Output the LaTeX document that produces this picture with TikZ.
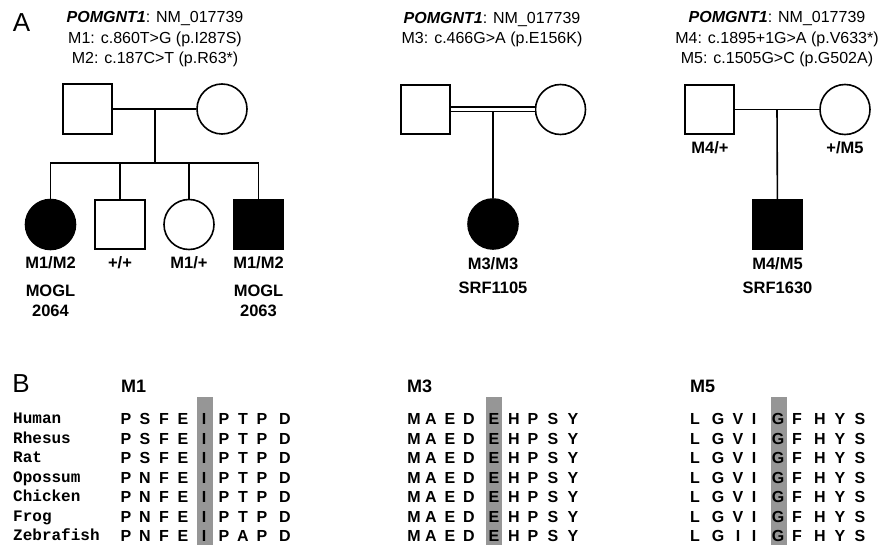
\documentclass[tikz,border=0pt]{standalone}
\usepackage{fontspec}
\setmainfont{Liberation Sans}
\newfontfamily\speciesfont{Liberation Mono}
\usetikzlibrary{positioning}
\definecolor{barGray}{RGB}{150,150,150}

\tikzset{
  person/.style={draw, line width=1.6pt, minimum size=49.5pt, inner sep=0pt},
  male/.style={person, rectangle},
  female/.style={person, circle, minimum size=50pt},
  affected/.style={fill=black},
  link/.style={line width=1.6pt},
  geno/.style={font=\fontsize{16.5}{20}\selectfont\bfseries, align=center, inner sep=0pt},
  gene/.style={font=\fontsize{16}{20.5}\selectfont, align=center, inner sep=0pt},
  panel/.style={font=\fontsize{26}{30}\selectfont, inner sep=0pt},
  site/.style={font=\fontsize{18}{20}\selectfont\bfseries, anchor=west, inner sep=0pt},
  species/.style={font=\speciesfont\fontsize{16}{18}\selectfont\bfseries, anchor=base west, inner sep=0pt},
  aa/.style={font=\fontsize{16}{18}\selectfont\bfseries, inner sep=0pt},
}

\newcommand{\aarow}[3]{%
  \foreach \ltr [count=\k from 0] in {#3} {
    \pgfmathsetmacro\xx{{#2}[\k]}
    \node[aa] at (\xx,#1) {\ltr};
  }}

\begin{document}
\begin{tikzpicture}[x=1pt, y=-1pt]
  \useasboundingbox (0,0) rectangle (882,545);

  \node[panel] (pa) at (21.5,22.5) {A};
  \node[panel] (pb) at (21,383.5) {B};

  % family 1
  \node[gene] (t1) at (155,39.5)
    {\textbf{\textit{POMGNT1}}: NM\_017739\\M1: c.860T>G (p.I287S)\\M2: c.187C>T (p.R63*)};
  \node[male] (f1) at (87.5,109) {};
  \node[female] (m1) at (222,109) {};
  \coordinate (u1) at (155,109);
  \coordinate (s1) at (155,163);
  \node[female, affected] (k11) at (50.5,224.5) {};
  \node[male] (k12) at (120,224.5) {};
  \node[female] (k13) at (189,224.5) {};
  \node[male, affected] (k14) at (258.5,224.5) {};
  \draw[link] (f1) -- (m1);
  \draw[link] (u1) -- (s1);
  \draw[link] (k11.north) |- (k14 |- s1) -- (k14.north);
  \foreach \k in {k12,k13}
    \draw[link] (\k |- s1) -- (\k.north);
  \node[geno] (g11) at (50.5,263) {M1/M2};
  \node[geno] (g12) at (120,263) {+/+};
  \node[geno] (g13) at (189,263) {M1/+};
  \node[geno] (g14) at (258.5,263) {M1/M2};
  \node[geno] (id11) at (50.5,301) {MOGL\\2064};
  \node[geno] (id14) at (258.5,301) {MOGL\\2063};

  % family 2
  \node[gene] (t2) at (492,29.5)
    {\textbf{\textit{POMGNT1}}: NM\_017739\\M3: c.466G>A (p.E156K)};
  \node[male] (f2) at (425.5,109.5) {};
  \node[female] (m2) at (560.5,109.5) {};
  \coordinate (u2) at (493,112);
  \node[female, affected] (k21) at (493,224) {};
  \draw[double, double distance=3.4pt, line width=1.3pt] (f2) -- (m2);
  \draw[link] (u2) -- (k21);
  \node[geno] (g21) at (493,264) {M3/M3};
  \node[geno] (id21) at (493,288) {SRF1105};

  % family 3
  \node[gene] (t3) at (777,39.5)
    {\textbf{\textit{POMGNT1}}: NM\_017739\\M4: c.1895+1G>A (p.V633*)\\M5: c.1505G>C (p.G502A)};
  \node[male] (f3) at (709.5,109.5) {};
  \node[female] (m3) at (845,109.5) {};
  \coordinate (u3) at (777,109.5);
  \node[male, affected] (k31) at (777.5,224.5) {};
  \draw[link] (f3) -- (m3);
  \draw[link] (u3) -- (k31);
  \node[geno] (g3f) at (710,148) {M4/+};
  \node[geno] (g3m) at (845,148) {+/M5};
  \node[geno] (g31) at (777.5,264) {M4/M5};
  \node[geno] (id31) at (777.5,287.5) {SRF1630};

  % alignments
  \fill[barGray] (197,397) rectangle (213,545);
  \fill[barGray] (486,397) rectangle (502,545);
  \fill[barGray] (771,397) rectangle (787,545);
  \node[site] (h1) at (121,386) {M1};
  \node[site] (h3) at (407,386) {M3};
  \node[site] (h5) at (690,386) {M5};
  \foreach \sp/\sa/\sb/\sc [count=\r from 0] in {Human/S/T/V, Rhesus/S/T/V, Rat/S/T/V,
      Opossum/N/T/V, Chicken/N/T/V, Frog/N/T/V, Zebrafish/N/A/I} {
    \pgfmathsetmacro\yy{419+19.5*\r}
    \node[species] at (13,{\yy+4.5}) {\sp};
    \aarow{\yy}{126,145,164,183,204,224,243,262,285}{P,\sa,F,E,I,P,\sb,P,D}
    \aarow{\yy}{414,431,450,469,494,514,533,553,573}{M,A,E,D,E,H,P,S,Y}
    \aarow{\yy}{695,718,738,754,778,797,820,840,860}{L,G,\sc,I,G,F,H,Y,S}
  }
\end{tikzpicture}
\end{document}
